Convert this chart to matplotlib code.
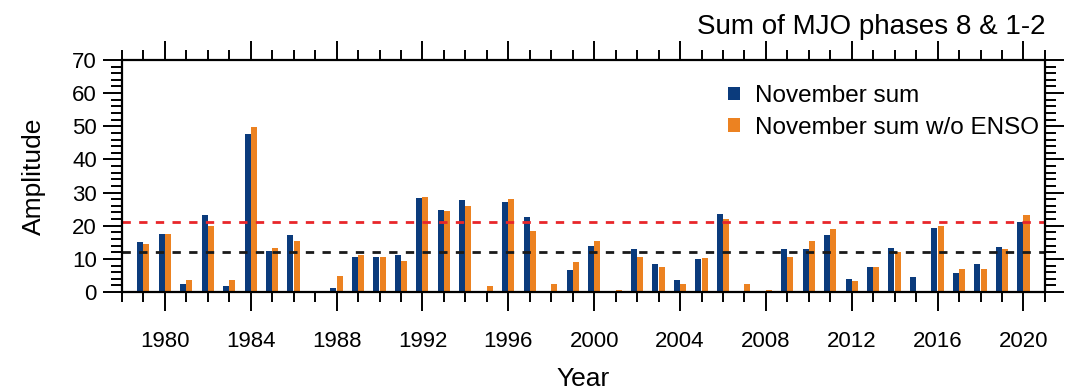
import numpy as np
from matplotlib import pyplot as plt
from matplotlib.ticker import MultipleLocator

plt.rcParams['font.family'] = ['Liberation Sans', 'DejaVu Sans']

# data
years = np.arange(1979, 2021)
nov_sum = [15.1, 17.5, 2.4, 23.1, 1.7, 47.8, 12.4, 17.1, 0.0, 1.3,
           10.6, 10.7, 11.2, 28.4, 24.7, 27.7, 0.0, 27.3, 22.5, 0.0,
           6.5, 13.9, 0.0, 12.9, 8.4, 3.5, 9.9, 23.5, 0.0, 0.0,
           13.0, 13.0, 17.3, 3.9, 7.5, 13.4, 4.4, 19.2, 5.8, 8.6,
           13.7, 21.1]
nov_sum_noenso = [14.6, 17.5, 3.5, 19.8, 3.5, 49.8, 13.2, 15.4, 0.0, 4.9,
                  11.3, 10.7, 9.4, 28.8, 24.3, 25.9, 1.7, 28.0, 18.5, 2.4,
                  9.0, 15.3, 0.7, 10.5, 7.7, 2.5, 10.3, 21.9, 2.5, 0.7,
                  10.6, 15.5, 18.9, 3.3, 7.5, 12.1, 0.0, 20.0, 7.1, 7.0,
                  12.9, 23.2]
red_line = 21.1
black_line = 12.0

fig = plt.figure(figsize=(10.7, 3.92), dpi=100)
ax = fig.add_axes([0.114, 0.255, 0.8626, 0.592])

w = 0.28
ax.bar(years - 0.15, nov_sum, w, color='#0b3b7c', label='November sum')
ax.bar(years + 0.14, nov_sum_noenso, w, color='#ec8221', label='November sum w/o ENSO')
ax.axhline(red_line, color='#e8262a', ls=(0, (3, 3)), lw=2)
ax.axhline(black_line, color='#1a1a1a', ls=(0, (3, 3)), lw=2)

ax.set_xlim(1978, 2021)
ax.set_ylim(0, 70)
ax.xaxis.set_major_locator(MultipleLocator(4))
ax.xaxis.set_minor_locator(MultipleLocator(1))
ax.yaxis.set_major_locator(MultipleLocator(10))
ax.yaxis.set_minor_locator(MultipleLocator(2))
ax.set_xticks(np.arange(1980, 2021, 4))

ax.tick_params(which='both', direction='out', top=True, right=True, width=1.4)
ax.tick_params(which='major', length=14, labelsize=16)
ax.tick_params(axis='x', which='major', pad=14)
ax.tick_params(axis='y', which='major', pad=4)
ax.tick_params(which='minor', length=7)
ax.tick_params(axis='y', which='minor', length=8)
for s in ax.spines.values():
    s.set_linewidth(1.6)

ax.set_xlabel('Year', fontsize=19, labelpad=11)
ax.set_ylabel('Amplitude', fontsize=19, labelpad=19)
fig.text(0.977, 0.932, 'Sum of MJO phases 8 & 1-2', ha='right', va='center', fontsize=20)

ax.legend(loc='upper left', bbox_to_anchor=(0.638, 0.965), frameon=False, fontsize=17.5,
          handlelength=0.5, handleheight=0.5, handletextpad=0.6, labelspacing=0.4,
          borderaxespad=0.3)

plt.savefig('out.png', dpi=100)
